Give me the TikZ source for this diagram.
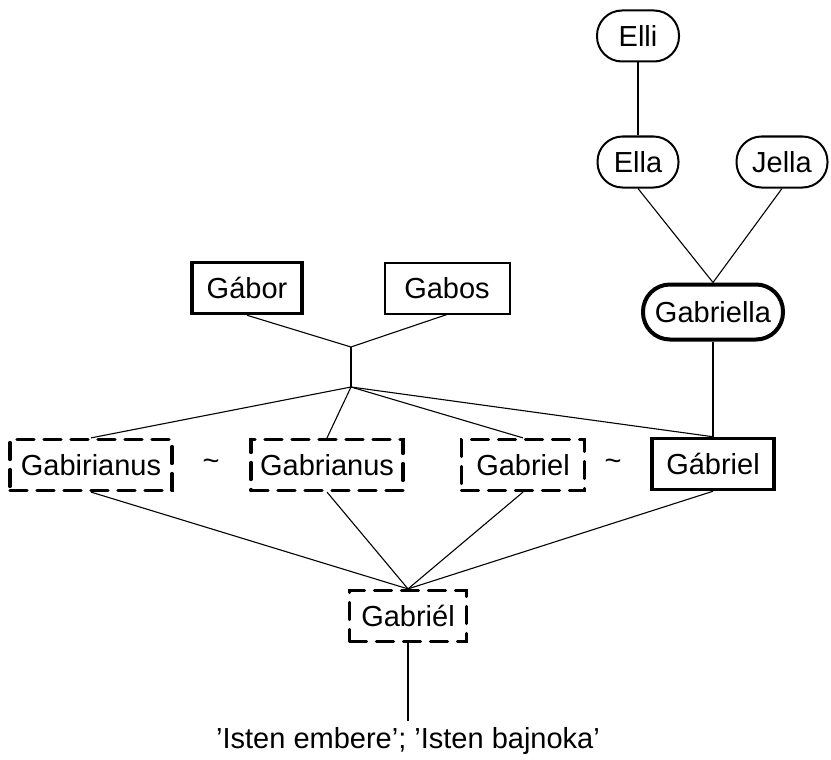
\documentclass[tikz,border=0pt]{standalone}
\usepackage{fontspec}
\setmainfont{Liberation Sans}
\usepackage{tikz}

\tikzset{
  label text/.style = {font=\fontsize{29}{34}\selectfont},
  namebox/.style = {label text, inner sep=0pt, minimum height=51pt, align=center},
  plainbox/.style = {namebox, draw, line width=2pt},
  boldbox/.style = {namebox, draw, line width=3.5pt},
  dashbox/.style = {namebox, draw, line width=3.2pt, dash pattern=on 17pt off 10pt, line cap=round},
  pill/.style = {namebox, draw, rounded corners=25pt, line width=2pt},
  boldpill/.style = {namebox, draw, rounded corners=27pt, line width=4pt},
  link/.style = {line width=1.1pt}
}

\begin{document}
\begin{tikzpicture}[x=1pt, y=-1pt]
\useasboundingbox (0,0) rectangle (831,760);

\node[pill, minimum width=82pt] (elli) at (638,36) {Elli};
\node[pill, minimum width=81pt] (ella) at (638,162) {Ella};
\node[pill, minimum width=91pt] (jella) at (782,162) {Jella};
\node[boldpill, minimum width=140pt, minimum height=55pt] (gabriella) at (713,312) {Gabriella};

\node[boldbox, minimum width=110pt] (gabor) at (247,288) {G\'abor};
\node[plainbox, minimum width=125pt] (gabos) at (447,288) {Gabos};
\coordinate (fork) at (351,347);
\coordinate (split) at (351,387);

\node[dashbox, minimum width=162pt] (gabirianus) at (91,465) {Gabirianus};
\node[label text] (tildeA) at (211,465) {\textasciitilde};
\node[dashbox, minimum width=152pt] (gabrianus) at (327,465) {Gabrianus};
\node[dashbox, minimum width=123pt] (gabriel) at (523,465) {Gabriel};
\node[label text] (tildeB) at (613,465) {\textasciitilde};
\node[boldbox, minimum width=122pt] (gabrielhu) at (713,464) {G\'abriel};

\node[dashbox, minimum width=117pt] (gabriel2) at (408,616) {Gabri\'el};
\node[label text, inner sep=6pt] (meaning) at (408,741) {'Isten embere'; 'Isten bajnoka'};

\draw[link] (elli) -- (ella);
\draw[link] (ella.south) -- (gabriella.north) -- (jella.south);
\draw[link] (gabriella) -- (gabrielhu);

\draw[link] (gabor.south) -- (fork) -- (gabos.south);
\draw[link] (fork) -- (split);
\draw[link] (split) -- (gabirianus.north);
\draw[link] (split) -- (gabrianus.north);
\draw[link] (split) -- (gabriel.north);
\draw[link] (split) -- (gabrielhu.north);

\draw[link] (gabirianus.south) -- (gabriel2.north);
\draw[link] (gabrianus.south) -- (gabriel2.north);
\draw[link] (gabriel.south) -- (gabriel2.north);
\draw[link] (gabrielhu.south) -- (gabriel2.north);
\draw[link] (gabriel2) -- (meaning);
\end{tikzpicture}
\end{document}
